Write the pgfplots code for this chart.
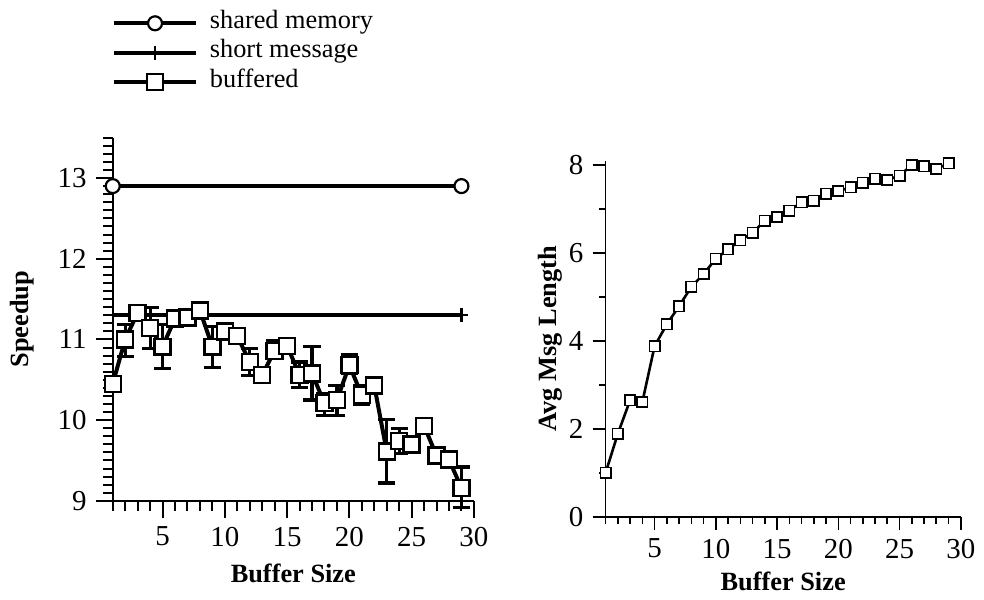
\documentclass[border=0pt]{standalone}
\usepackage{fontspec}
\setmainfont{Liberation Serif}
\usepackage{pgfplots}
\pgfplotsset{compat=1.18}

\pgfplotstableread{
x  y     ep   em
1  10.45 0    0
2  11.00 0.19 0.21
3  11.33 0    0
4  11.14 0.26 0.25
5  10.91 0.28 0.27
6  11.26 0    0
7  11.27 0    0
8  11.36 0    0
9  10.91 0.25 0.26
10 11.10 0    0
11 11.04 0    0
12 10.72 0.17 0.17
13 10.56 0    0
14 10.86 0.12 0.10
15 10.92 0    0
16 10.56 0.16 0.16
17 10.58 0.33 0.33
18 10.21 0.12 0.15
19 10.25 0.18 0.19
20 10.68 0.13 0.10
21 10.31 0.12 0.12
22 10.43 0    0
23 9.61  0.40 0.39
24 9.74  0.16 0.15
25 9.70  0    0
26 9.93  0    0
27 9.56  0    0.07
28 9.51  0    0
29 9.16  0.26 0.24
}\speedup

\pgfplotstableread{
x  y
1  1.00
2  1.89
3  2.65
4  2.61
5  3.88
6  4.38
7  4.79
8  5.23
9  5.52
10 5.87
11 6.08
12 6.29
13 6.46
14 6.73
15 6.82
16 6.96
17 7.15
18 7.19
19 7.35
20 7.41
21 7.49
22 7.60
23 7.69
24 7.66
25 7.76
26 8.00
27 7.97
28 7.91
29 8.04
}\msglen

\begin{document}
\fontsize{13.2}{15}\selectfont
\begin{tikzpicture}
\pgfplotsset{
  every axis/.append style={
    scale only axis, axis x line*=bottom, axis y line*=left,
    tick align=outside, xmin=1, xmax=30,
    xtick={5,10,...,30}, minor xtick={1,...,30},
    tick style={black},
    label style={font=\bfseries},
    tick label style={font=\fontsize{14.5}{16}\selectfont},
    /pgf/number format/assume math mode=true,
  }
}
% left: speedup
\begin{axis}[
  at={(0pt,0pt)}, anchor=south west, width=181pt, height=182pt,
  ymin=9, ymax=13.5, ytick={9,...,13}, minor ytick={9,9.1,...,13.5},
  axis line style={-, line width=1.2pt},
  major tick style={line width=1pt}, minor tick style={line width=1pt},
  major tick length=8.5pt, minor tick length=5pt,
  clip=false,
  xlabel={Buffer Size}, ylabel={Speedup},
  xlabel style={at={(axis description cs:0.5,-0.2)}, anchor=center},
  ylabel style={at={(axis description cs:-0.251,0.5)}, anchor=center},
  legend style={at={(axis description cs:0,1)}, anchor=north west,
    xshift=-0.5pt, yshift=64.9pt, draw=none, fill=none, inner sep=0pt,
    row sep=0pt, column sep=6pt,
    nodes={inner sep=0pt, text height=10pt, text depth=4.75pt}},
  legend cell align=left,
  legend image code/.code={\draw[mark repeat=2, mark phase=2]
    plot coordinates {(0pt,0pt) (20.5pt,0pt) (41pt,0pt)};},
]
\addplot[line width=2pt, mark=*, mark size=3.5pt,
  mark options={fill=white, line width=1.1pt}]
  coordinates {(1,12.9) (29,12.9)};
\addlegendentry{shared memory}
\addplot[line width=2pt, mark=+, mark size=3.5pt, mark options={line width=1.2pt}]
  coordinates {(1,11.3) (29,11.3)};
\addlegendentry{short message}
\addplot[line width=2pt, mark=square*, mark size=4pt,
  mark options={fill=white, line width=1.2pt},
  error bars/.cd, y dir=both, y explicit,
  error bar style={line width=1.6pt},
  error mark options={rotate=90, mark size=4.3pt, line width=1.6pt}]
  table[x=x, y=y, y error plus=ep, y error minus=em] {\speedup};
\addlegendentry{buffered}
\end{axis}

% right: average message length
\begin{axis}[
  at={(247pt,-8pt)}, anchor=south west, width=178pt, height=178.5pt,
  ymin=0, ymax=8.1, ytick={0,2,...,8}, minor ytick={1,3,5,7},
  axis line style={-, line width=0.8pt},
  major tick style={line width=0.8pt}, minor tick style={line width=0.8pt},
  major tick length=6.5pt, minor tick length=3.5pt,
  clip=false,
  xlabel={Buffer Size}, ylabel={Avg Msg Length},
  xlabel style={at={(axis description cs:0.5,-0.182)}, anchor=center},
  ylabel style={at={(axis description cs:-0.1545,0.5)}, anchor=center},
]
\addplot[line width=1.3pt, mark=square*, mark size=2.6pt,
  mark options={fill=white, line width=0.8pt}]
  table[x=x, y=y] {\msglen};
\end{axis}

\path (-56.5pt,251pt) rectangle (435.5pt,-47pt);
\end{tikzpicture}
\end{document}
